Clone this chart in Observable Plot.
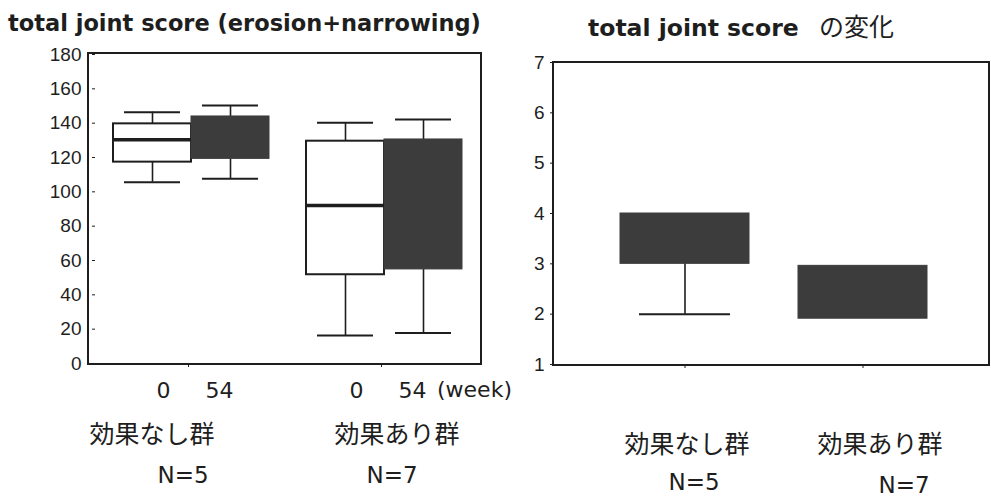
<!DOCTYPE html>
<html><head><meta charset="utf-8">
<script src="https://cdn.jsdelivr.net/npm/d3@7"></script>
<script src="https://cdn.jsdelivr.net/npm/@observablehq/plot@0.6"></script>
<style>
body{margin:0;background:#fff;}
#wrap{position:relative;width:991px;height:496px;overflow:hidden;background:#fff;font-family:"DejaVu Sans",sans-serif;color:#1e1e1e;}
.pl{position:absolute;top:0;}
.lbl{position:absolute;transform:translate(-50%,-50%);white-space:nowrap;line-height:1;}
.ttl{position:absolute;transform:translate(0,-50%);white-space:nowrap;line-height:1;font-weight:bold;}
.frm{position:absolute;border:2px solid #1e1e1e;box-sizing:border-box;pointer-events:none;}
.jp{font-family:"Noto Sans CJK JP",sans-serif;font-size:25px;}
.nn{font-family:"DejaVu Sans",sans-serif;font-size:23px;}
</style></head><body><div id="wrap"></div>
<script>
// ---- data ----
const groups = ["効果なし群", "効果あり群"];
const groupN = ["N=5", "N=7"];
const weeks = ["0", "54"];
const scoreTicks = [0, 20, 40, 60, 80, 100, 120, 140, 160, 180];
const changeTicks = [1, 2, 3, 4, 5, 6, 7];

// total joint score, per group x week
const scoreGroup  = ["効果なし群", "効果なし群", "効果あり群", "効果あり群"];
const scoreWeek   = ["0", "54", "0", "54"];
const scoreMin    = [105.6, 107.6, 16.3, 17.7];
const scoreQ1     = [117.3, 119.2, 51.7, 54.8];
const scoreMedian = [130.3, null, 92.0, null];
const scoreQ3     = [139.6, 143.9, 129.5, 130.5];
const scoreMax    = [146.4, 150.3, 140.2, 142.1];

// change of total joint score, per group
const changeMin = [2.0, 1.91];
const changeQ1  = [3.0, 1.91];
const changeQ3  = [4.0, 2.96];
const changeMax = [4.0, 2.96];

const titleLeft = "total joint score (erosion+narrowing)";
const titleRight = ["total joint score", "の変化"];
const weekUnit = "(week)";

// ---- tables ----
const scoreRows = scoreGroup.map((g, i) => ({
  group: g, week: scoreWeek[i], min: scoreMin[i], q1: scoreQ1[i],
  median: scoreMedian[i], q3: scoreQ3[i], max: scoreMax[i]
}));
const changeRows = groups.map((g, i) => ({
  group: g, min: changeMin[i], q1: changeQ1[i], q3: changeQ3[i], max: changeMax[i]
}));

const ink = "#1e1e1e";
const dark = "#3c3c3c";
const wrap = document.getElementById("wrap");
const axisFont = "Liberation Sans, Arial, sans-serif";

// ---- left chart ----
const left = Plot.plot({
  width: 520, height: 400,
  marginLeft: 88, marginRight: 39, marginTop: 54, marginBottom: 37,
  style: {background: "transparent", color: ink, overflow: "visible"},
  fx: {domain: groups, paddingInner: 0.036, paddingOuter: 0.036, label: null},
  x: {domain: weeks, paddingInner: 0, paddingOuter: 0.185, align: 0.6, label: null},
  y: {domain: [0, 180], label: null},
  marks: [
    Plot.ruleX(scoreRows, {fx: "group", x: "week", y1: "q3", y2: "max", stroke: ink, strokeWidth: 1.6}),
    Plot.ruleX(scoreRows, {fx: "group", x: "week", y1: "min", y2: "q1", stroke: ink, strokeWidth: 1.6}),
    Plot.tickY(scoreRows.filter(d => d.max > d.q3), {fx: "group", x: "week", y: "max", stroke: ink, strokeWidth: 2, insetLeft: 11, insetRight: 11}),
    Plot.tickY(scoreRows.filter(d => d.min < d.q1), {fx: "group", x: "week", y: "min", stroke: ink, strokeWidth: 2, insetLeft: 11, insetRight: 11}),
    Plot.barY(scoreRows.filter(d => d.week === "0"), {fx: "group", x: "week", y1: "q1", y2: "q3", fill: "white", stroke: ink, strokeWidth: 2}),
    Plot.barY(scoreRows.filter(d => d.week === "54"), {fx: "group", x: "week", y1: "q1", y2: "q3", fill: dark, stroke: dark, strokeWidth: 1}),
    Plot.tickY(scoreRows.filter(d => d.median != null), {fx: "group", x: "week", y: "median", stroke: ink, strokeWidth: 3.5}),
    Plot.axisY({ticks: scoreTicks, tickSize: 3, tickPadding: 11, fontSize: 19, fontFamily: axisFont, label: null}),
    Plot.axisX({ticks: [weeks[0]], tickSize: 0, tickPadding: 19, dx: 11, fontSize: 22, fontFamily: "DejaVu Sans, sans-serif", label: null}),
    Plot.axisX({ticks: [weeks[1]], tickSize: 0, tickPadding: 19, dx: -11, fontSize: 22, fontFamily: "DejaVu Sans, sans-serif", label: null}),
    Plot.axisFx({anchor: "bottom", tickSize: 4, tickFormat: () => "", label: null})
  ]
});
left.classList.add("pl");
left.style.left = "0px";
wrap.appendChild(left);

// ---- right chart ----
const right = Plot.plot({
  width: 471, height: 400,
  marginLeft: 33, marginRight: 2, marginTop: 62, marginBottom: 36,
  style: {background: "transparent", color: ink, overflow: "visible"},
  x: {domain: groups, paddingInner: 0.275, paddingOuter: 0.362, align: 0.52, label: null},
  y: {domain: [1, 7], label: null},
  marks: [
    Plot.ruleX(changeRows.filter(d => d.min < d.q1), {x: "group", y1: "min", y2: "q1", stroke: ink, strokeWidth: 1.6}),
    Plot.ruleX(changeRows.filter(d => d.max > d.q3), {x: "group", y1: "q3", y2: "max", stroke: ink, strokeWidth: 1.6}),
    Plot.tickY(changeRows.filter(d => d.min < d.q1), {x: "group", y: "min", stroke: ink, strokeWidth: 2, insetLeft: 19, insetRight: 19}),
    Plot.tickY(changeRows.filter(d => d.max > d.q3), {x: "group", y: "max", stroke: ink, strokeWidth: 2, insetLeft: 19, insetRight: 19}),
    Plot.barY(changeRows, {x: "group", y1: "q1", y2: "q3", fill: dark, stroke: dark, strokeWidth: 1}),
    Plot.axisY({ticks: changeTicks, tickFormat: d => String(d), tickSize: 3, tickPadding: 6, fontSize: 19, fontFamily: axisFont, label: null}),
    Plot.axisX({tickSize: 4, tickFormat: () => "", label: null})
  ]
});
right.classList.add("pl");
right.style.left = "520px";
wrap.appendChild(right);

// ---- frames ----
function frame(x0, y0, x1, y1) {
  const f = document.createElement("div");
  f.className = "frm";
  f.style.left = (x0 - 1) + "px"; f.style.top = (y0 - 1) + "px";
  f.style.width = (x1 - x0 + 2) + "px"; f.style.height = (y1 - y0 + 2) + "px";
  wrap.appendChild(f);
}
frame(88, 53, 481, 364);
frame(553, 62, 989, 365);

// ---- text ----
function label(text, x, y, cls, center = true) {
  const d = document.createElement("div");
  d.className = center ? "lbl " + cls : cls;
  d.textContent = text;
  d.style.left = x + "px"; d.style.top = y + "px";
  wrap.appendChild(d);
  return d;
}
const t1 = label(titleLeft, 8, 23, "ttl", false);
t1.style.fontSize = "22.5px";
const t2 = document.createElement("div");
t2.className = "ttl";
t2.style.left = "588px"; t2.style.top = "27px"; t2.style.fontSize = "23.5px";
const s1 = document.createElement("span"); s1.textContent = titleRight[0];
const sp = document.createTextNode(" ");
const s2 = document.createElement("span"); s2.textContent = titleRight[1];
s2.style.cssText = "font-family:'Noto Sans CJK JP',sans-serif;font-weight:normal;font-size:25px;margin-left:12px;";
t2.append(s1, sp, s2);
wrap.appendChild(t2);

const wk = label(weekUnit, 437, 390, "ttl", false);
wk.style.fontWeight = "normal"; wk.style.fontSize = "22px";

// layout of group captions
const leftGroupPos = [[152, 432], [397, 432]];
const leftNPos = [[183, 475], [392, 475]];
const rightGroupPos = [[687, 442], [880, 442]];
const rightNPos = [[694, 482], [904, 485]];
groups.forEach((g, i) => {
  label(g, leftGroupPos[i][0], leftGroupPos[i][1], "jp");
  label(groupN[i], leftNPos[i][0], leftNPos[i][1], "nn");
  label(g, rightGroupPos[i][0], rightGroupPos[i][1], "jp");
  label(groupN[i], rightNPos[i][0], rightNPos[i][1], "nn");
});
</script></body></html>
